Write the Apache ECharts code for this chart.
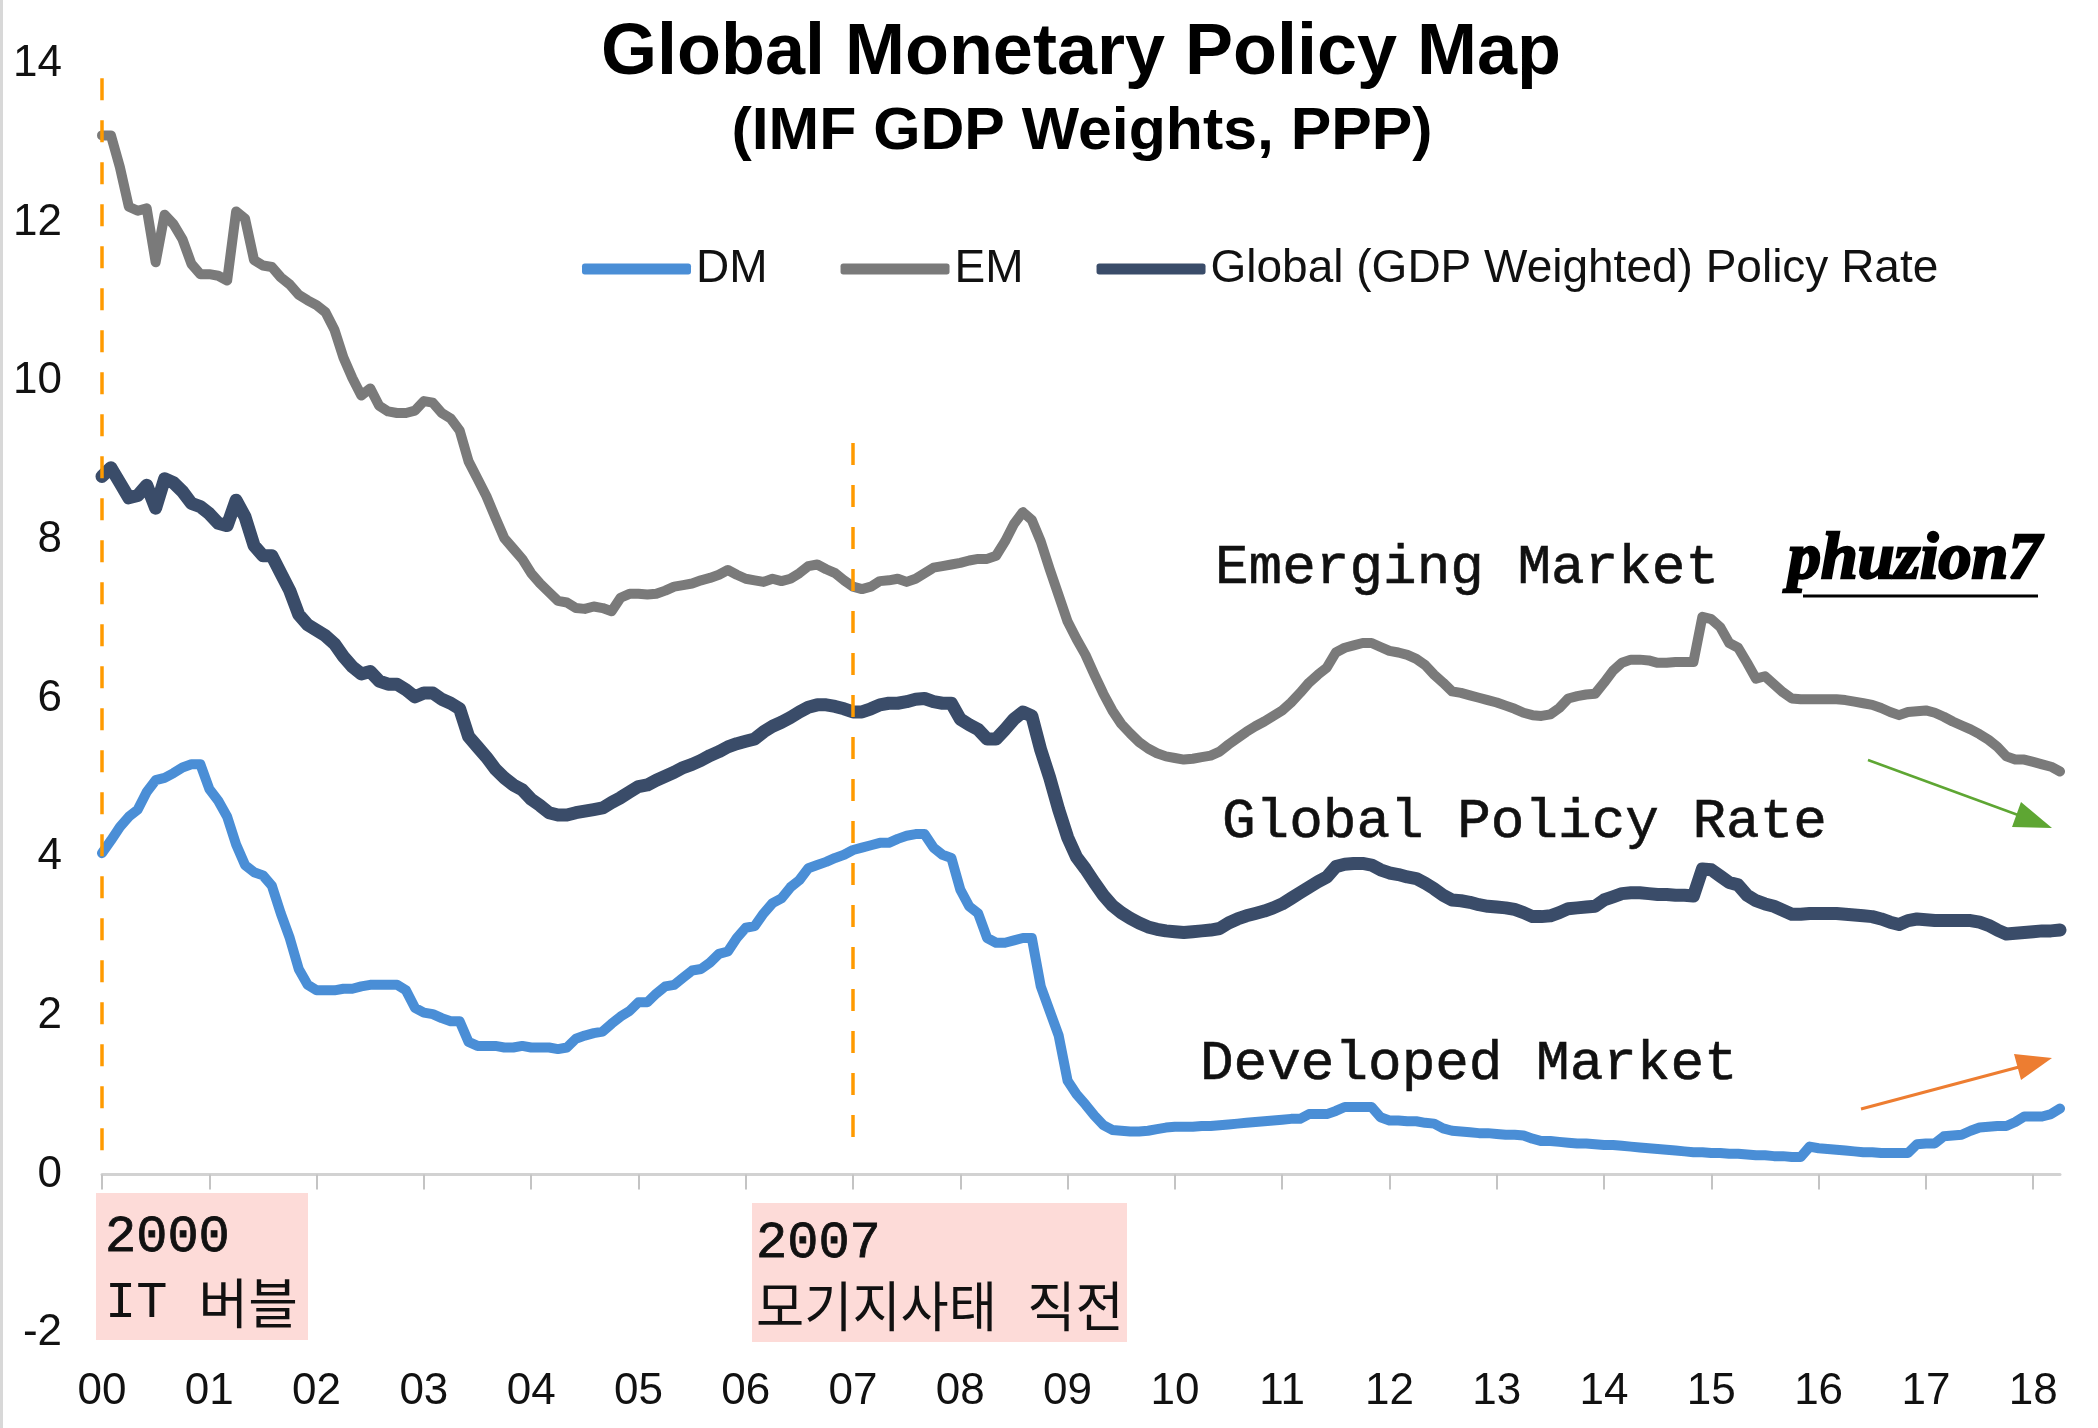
<!DOCTYPE html>
<html><head><meta charset="utf-8">
<script src="https://cdn.jsdelivr.net/npm/echarts@6/dist/echarts.min.js"></script>
<style>html,body{margin:0;padding:0;background:#fff}#c{width:2098px;height:1428px}</style>
</head><body><div id="c"></div>
<script>
// Monthly observations, Jan 2000 .. Apr 2018 (220 months)
const months = [];
for (let y = 2000; y <= 2018; y++) {
  for (let mo = 1; mo <= 12; mo++) {
    if (months.length < 220) months.push(y + '-' + String(mo).padStart(2, '0'));
  }
}
const yearLabels = ['00','01','02','03','04','05','06','07','08','09','10','11','12','13','14','15','16','17','18'];

const emRate = [
  13.1, 13.1, 12.7, 12.2, 12.15, 12.18, 11.5, 12.1, 11.98, 11.79, 11.48, 11.35,
  11.35, 11.33, 11.27, 12.14, 12.05, 11.53, 11.46, 11.44, 11.31, 11.22, 11.09, 11.02,
  10.96, 10.87, 10.65, 10.3, 10.04, 9.82, 9.91, 9.69, 9.62, 9.6, 9.6, 9.63,
  9.75, 9.73, 9.6, 9.53, 9.38, 8.99, 8.77, 8.55, 8.28, 8.02, 7.89, 7.76,
  7.58, 7.45, 7.34, 7.23, 7.21, 7.14, 7.13, 7.16, 7.14, 7.1, 7.27, 7.32,
  7.32, 7.31, 7.32, 7.36, 7.41, 7.43, 7.45, 7.49, 7.52, 7.56, 7.62, 7.56,
  7.51, 7.49, 7.47, 7.51, 7.48, 7.51, 7.58, 7.67, 7.69, 7.63, 7.58, 7.49,
  7.41, 7.38, 7.41, 7.48, 7.49, 7.51, 7.47, 7.51, 7.58, 7.65, 7.67, 7.69,
  7.71, 7.74, 7.76, 7.76, 7.8, 7.98, 8.2, 8.35, 8.25, 7.98, 7.63, 7.3,
  6.97, 6.75, 6.55, 6.3, 6.06, 5.85, 5.68, 5.56, 5.45, 5.37, 5.31, 5.27,
  5.25, 5.23, 5.24, 5.26, 5.28, 5.33, 5.42, 5.5, 5.58, 5.65, 5.71, 5.78,
  5.85, 5.95, 6.07, 6.2, 6.3, 6.39, 6.58, 6.64, 6.67, 6.7, 6.7, 6.65,
  6.6, 6.58, 6.55, 6.5, 6.42, 6.3, 6.2, 6.09, 6.07, 6.04, 6.01, 5.98,
  5.95, 5.91, 5.87, 5.82, 5.79, 5.78, 5.8, 5.88, 6.0, 6.03, 6.05, 6.06,
  6.2, 6.35, 6.45, 6.49, 6.49, 6.48, 6.45, 6.45, 6.46, 6.46, 6.46, 7.03,
  7.0, 6.9, 6.7, 6.64, 6.45, 6.25, 6.28, 6.18, 6.08, 6.0, 5.99, 5.99,
  5.99, 5.99, 5.99, 5.98, 5.96, 5.94, 5.92, 5.88, 5.83, 5.79, 5.83, 5.84,
  5.85, 5.82, 5.77, 5.71, 5.66, 5.61, 5.55, 5.48, 5.39, 5.27, 5.23, 5.23,
  5.2, 5.17, 5.14, 5.08
];

const globalRate = [
  8.8, 8.91, 8.72, 8.53, 8.56, 8.69, 8.4, 8.77, 8.72, 8.61, 8.46, 8.42,
  8.33, 8.21, 8.18, 8.5, 8.29, 7.93, 7.8, 7.8, 7.58, 7.36, 7.06, 6.93,
  6.86, 6.79, 6.69, 6.53, 6.4, 6.31, 6.34, 6.22, 6.18, 6.18, 6.11, 6.02,
  6.07, 6.07, 5.99, 5.94, 5.87, 5.52, 5.39, 5.26, 5.11, 5.0, 4.91, 4.85,
  4.73, 4.65, 4.56, 4.53, 4.53, 4.56, 4.58, 4.6, 4.62, 4.69, 4.75, 4.82,
  4.89, 4.91, 4.97, 5.02, 5.07, 5.13, 5.17, 5.22, 5.28, 5.33, 5.39, 5.43,
  5.46, 5.49, 5.58, 5.65, 5.7, 5.76, 5.83, 5.89, 5.92, 5.92, 5.9, 5.87,
  5.83, 5.83, 5.87, 5.92, 5.94, 5.94, 5.96, 5.99, 6.0, 5.96, 5.94, 5.94,
  5.74, 5.67, 5.61, 5.49, 5.49, 5.61, 5.74, 5.83, 5.78, 5.35, 5.0, 4.6,
  4.25, 4.0, 3.85, 3.68, 3.52, 3.39, 3.3, 3.23, 3.17, 3.12, 3.09, 3.07,
  3.06, 3.05, 3.06, 3.07, 3.08, 3.1, 3.17, 3.22, 3.26, 3.29, 3.32, 3.36,
  3.41, 3.48, 3.55, 3.62, 3.69, 3.75, 3.88, 3.91, 3.92, 3.92, 3.9, 3.84,
  3.8, 3.78, 3.75, 3.73, 3.67, 3.6, 3.52, 3.46, 3.45, 3.43, 3.4, 3.38,
  3.37, 3.36, 3.34, 3.3, 3.25, 3.25, 3.26, 3.3, 3.35, 3.36, 3.37, 3.38,
  3.46, 3.5, 3.54, 3.55, 3.55, 3.54, 3.53, 3.53, 3.52, 3.52, 3.51, 3.85,
  3.84, 3.76, 3.68, 3.65, 3.52, 3.45, 3.41, 3.38, 3.33, 3.28, 3.28, 3.29,
  3.29, 3.29, 3.29, 3.28, 3.27, 3.26, 3.25, 3.22, 3.18, 3.15, 3.2, 3.22,
  3.21, 3.2, 3.2, 3.2, 3.2, 3.2, 3.18, 3.14, 3.08, 3.03, 3.04, 3.05,
  3.06, 3.07, 3.07, 3.08
];

const dmRate = [
  4.05, 4.21, 4.38, 4.51, 4.6, 4.82, 4.97, 5.0, 5.06, 5.13, 5.17, 5.17,
  4.86, 4.71, 4.51, 4.16, 3.9, 3.81, 3.77, 3.64, 3.29, 2.98, 2.59, 2.39,
  2.32, 2.32, 2.32, 2.34, 2.34, 2.37, 2.39, 2.39, 2.39, 2.39, 2.32, 2.1,
  2.04, 2.02, 1.97, 1.93, 1.93, 1.67, 1.62, 1.62, 1.62, 1.6, 1.6, 1.62,
  1.6, 1.6, 1.6, 1.58, 1.6, 1.71, 1.75, 1.78, 1.8, 1.9, 1.99, 2.06,
  2.17, 2.17, 2.28, 2.37, 2.39, 2.48, 2.57, 2.59, 2.67, 2.78, 2.81, 2.98,
  3.11, 3.13, 3.29, 3.42, 3.48, 3.62, 3.71, 3.86, 3.9, 3.94, 3.99, 4.03,
  4.09, 4.12, 4.15, 4.18, 4.18, 4.23, 4.27, 4.29, 4.29, 4.12, 4.03, 3.99,
  3.59, 3.38, 3.29, 2.98, 2.92, 2.92, 2.95, 2.98, 2.98, 2.37, 2.06, 1.75,
  1.18, 1.01, 0.88, 0.74, 0.62, 0.56, 0.55, 0.54, 0.54, 0.55, 0.57, 0.59,
  0.6, 0.6, 0.6, 0.61, 0.61, 0.62, 0.63, 0.64, 0.65, 0.66, 0.67, 0.68,
  0.69, 0.7, 0.7, 0.76, 0.76, 0.76, 0.8, 0.85, 0.85, 0.85, 0.85, 0.72,
  0.68, 0.68, 0.67, 0.67, 0.65, 0.64, 0.58, 0.55, 0.54, 0.53, 0.52, 0.52,
  0.51, 0.5, 0.5, 0.49, 0.45, 0.42, 0.42, 0.41, 0.4, 0.39, 0.39, 0.38,
  0.37, 0.37, 0.36, 0.35, 0.34, 0.33, 0.32, 0.31, 0.3, 0.29, 0.28, 0.28,
  0.27, 0.27, 0.26, 0.26, 0.25, 0.24, 0.24, 0.23, 0.23, 0.22, 0.22, 0.35,
  0.33, 0.32, 0.31, 0.3, 0.29, 0.28, 0.28, 0.27, 0.27, 0.27, 0.27, 0.38,
  0.39, 0.39, 0.48, 0.49, 0.5, 0.55, 0.59, 0.6, 0.61, 0.61, 0.66, 0.73,
  0.73, 0.73, 0.76, 0.83
];

const seriesNames = ['DM', 'EM', 'Global (GDP Weighted) Policy Rate'];
const colors = { dm: '#4a8ed6', em: '#7a7a7a', gl: '#3a4c69' };

const SANS = '"Liberation Sans", Arial, sans-serif';
const MONO = '"Liberation Mono", "Courier New", monospace';
const KR = '"Noto Sans CJK KR", sans-serif';
const yearTick = (idx) => idx % 12 === 0;

const chart = echarts.init(document.getElementById('c'), null, { renderer: 'canvas' });

function txt(x, y, text, font, align, extraStyle, extra) {
  return Object.assign({
    type: 'text', x: x, y: y, z: 100, silent: true,
    style: Object.assign({ text: text, font: font, fill: '#111', textAlign: align || 'left', textVerticalAlign: 'middle' }, extraStyle || {})
  }, extra || {});
}

const option = {
  animation: false,
  backgroundColor: '#ffffff',
  grid: { left: 102, right: 38, top: 64, bottom: 95, containLabel: false },
  legend: {
    data: seriesNames,
    left: 577, top: 241,
    itemWidth: 109, itemHeight: 11, itemGap: 73,
    icon: 'roundRect',
    textStyle: { fontSize: 46, color: '#111', fontFamily: SANS }
  },
  xAxis: [
    {
      type: 'category', data: months, boundaryGap: false, position: 'bottom',
      axisLine: { onZero: true, lineStyle: { color: '#d2d2d2', width: 3 } },
      axisTick: { show: true, interval: yearTick, length: 15, lineStyle: { color: '#c4c4c4', width: 2 } },
      axisLabel: { show: false },
      splitLine: { show: false }
    },
    {
      type: 'category', data: months, boundaryGap: false, position: 'bottom',
      axisLine: { show: false, onZero: false },
      axisTick: { show: false },
      axisLabel: {
        interval: yearTick, margin: 37, fontSize: 44, color: '#111', fontFamily: SANS,
        formatter: (v, i) => yearLabels[Math.floor(i / 12)]
      },
      splitLine: { show: false }
    }
  ],
  yAxis: {
    type: 'value', min: -2, max: 14, interval: 2,
    axisLine: { show: false }, axisTick: { show: false }, splitLine: { show: false },
    axisLabel: { margin: 40, fontSize: 44, color: '#111', fontFamily: SANS, padding: [6, 0, 0, 0] }
  },
  series: [
    {
      name: seriesNames[0], type: 'line', data: dmRate, showSymbol: false, symbol: 'none',
      lineStyle: { color: colors.dm, width: 10, join: 'round', cap: 'round' },
      itemStyle: { color: colors.dm }, z: 3
    },
    {
      name: seriesNames[1], type: 'line', data: emRate, showSymbol: false, symbol: 'none',
      lineStyle: { color: colors.em, width: 10, join: 'round', cap: 'round' },
      itemStyle: { color: colors.em }, z: 3
    },
    {
      name: seriesNames[2], type: 'line', data: globalRate, showSymbol: false, symbol: 'none',
      lineStyle: { color: colors.gl, width: 13, join: 'round', cap: 'round' },
      itemStyle: { color: colors.gl }, z: 4,
      markLine: {
        silent: true, symbol: ['none', 'none'], animation: false,
        label: { show: false },
        lineStyle: { type: [22, 20], color: '#ff9a00', width: 3.5 },
        data: [
          [{ coord: [0, 13.82] }, { coord: [0, 0.19] }],
          [{ coord: [84, 9.22] }, { coord: [84, 0.37] }]
        ]
      }
    }
  ],
  graphic: [
    { type: 'rect', shape: { x: 0, y: 0, width: 3, height: 1428 }, style: { fill: '#d8d8d8' }, z: 100, silent: true },
    txt(1081, 54, 'Global Monetary Policy Map', 'bold 72px ' + SANS, 'center', { fill: '#000' }),
    txt(1082, 133, '(IMF GDP Weights, PPP)', 'bold 59px ' + SANS, 'center', { fill: '#000' }, { scaleX: 1.03 }),
    { type: 'rect', shape: { x: 96, y: 1193, width: 212, height: 147 }, style: { fill: '#fddbd8' }, z: 50, silent: true },
    { type: 'rect', shape: { x: 752, y: 1203, width: 375, height: 139 }, style: { fill: '#fddbd8' }, z: 50, silent: true },
    txt(105, 1237, '2000', '52px ' + MONO, 'left', { stroke: '#111', lineWidth: 0.8 }),
    {
      type: 'text', x: 105, y: 1303, z: 100, silent: true,
      style: {
        text: '{a|IT }{k|버블}', textVerticalAlign: 'middle',
        rich: {
          a: { font: '52px ' + MONO, fill: '#111' },
          k: { font: '54px ' + KR, fill: '#111' }
        }
      }
    },
    txt(756, 1243, '2007', '52px ' + MONO, 'left', { stroke: '#111', lineWidth: 0.8 }),
    {
      type: 'text', x: 756, y: 1306, z: 100, silent: true, scaleX: 0.97,
      style: {
        text: '{k|모기지사태}{a| }{k|직전}', textVerticalAlign: 'middle',
        rich: {
          a: { font: '52px ' + MONO, fill: '#111' },
          k: { font: '54px ' + KR, fill: '#111' }
        }
      }
    },
    txt(1215, 568, 'Emerging Market', '56px ' + MONO, 'left', { stroke: '#111', lineWidth: 0.6 }),
    txt(1222, 822, 'Global Policy Rate', '56px ' + MONO, 'left', { stroke: '#111', lineWidth: 0.6 }),
    txt(1200, 1064, 'Developed Market', '56px ' + MONO, 'left', { stroke: '#111', lineWidth: 0.6 }),
    txt(1788, 561, 'phuzion7', 'italic bold 66px "Liberation Serif", serif', 'left', { fill: '#000', stroke: '#000', lineWidth: 2.5 }),
    { type: 'line', shape: { x1: 1803, y1: 596, x2: 2038, y2: 596 }, style: { stroke: '#000', lineWidth: 3 }, z: 100, silent: true },
    // green arrow (EM trend)
    { type: 'line', shape: { x1: 1868, y1: 760, x2: 2018, y2: 815 }, style: { stroke: '#5ea633', lineWidth: 2.5 }, z: 100, silent: true },
    { type: 'polygon', shape: { points: [[2052, 828], [2012, 827], [2021, 802]] }, style: { fill: '#5ea633' }, z: 100, silent: true },
    // orange arrow (DM trend)
    { type: 'line', shape: { x1: 1861, y1: 1109, x2: 2019, y2: 1067 }, style: { stroke: '#ed7d31', lineWidth: 3 }, z: 100, silent: true },
    { type: 'polygon', shape: { points: [[2052, 1058], [2021, 1080], [2014, 1054]] }, style: { fill: '#ed7d31' }, z: 100, silent: true }
  ]
};
chart.setOption(option);
</script>
</body></html>
